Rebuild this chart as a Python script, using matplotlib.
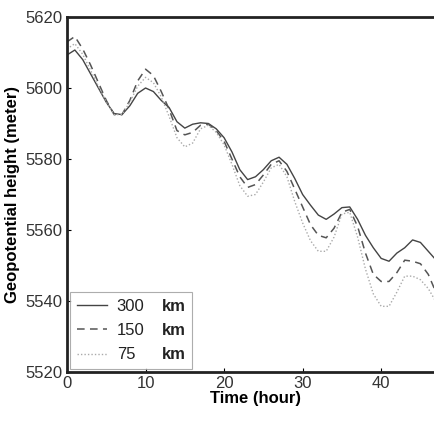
import matplotlib
matplotlib.use("Agg")
import matplotlib.pyplot as plt
from matplotlib.lines import Line2D

# time in hours, geopotential height in metres
hours = list(range(0, 48))

h_300 = [5609.3, 5610.7, 5608.0, 5604.0, 5600.0, 5596.0, 5592.8, 5592.5,
         5595.0, 5598.5, 5600.0, 5599.0, 5596.5, 5594.5, 5590.5, 5588.7,
         5589.8, 5590.2, 5590.0, 5588.5, 5586.0, 5582.0, 5577.0, 5574.2,
         5575.0, 5577.0, 5579.5, 5580.5, 5578.5, 5574.5, 5570.0, 5567.0,
         5564.2, 5563.0, 5564.5, 5566.3, 5566.5, 5563.0, 5558.5, 5555.0,
         5552.0, 5551.2, 5553.5, 5555.0, 5557.2, 5556.5, 5554.0, 5551.5]

h_150 = [5613.0, 5614.5, 5611.0, 5606.5, 5601.5, 5596.5, 5592.5, 5592.5,
         5596.5, 5602.0, 5605.3, 5603.5, 5599.0, 5594.0, 5588.0, 5586.8,
         5587.5, 5589.5, 5589.8, 5588.0, 5585.0, 5580.0, 5575.0, 5572.0,
         5572.8, 5575.5, 5578.5, 5579.5, 5576.5, 5571.5, 5566.5, 5561.5,
         5558.5, 5557.8, 5560.5, 5565.0, 5565.8, 5561.0, 5553.5, 5547.5,
         5545.5, 5545.5, 5548.0, 5551.5, 5551.2, 5550.5, 5547.5, 5542.3]

h_75 = [5611.0, 5612.5, 5609.5, 5605.0, 5600.5, 5596.0, 5592.5, 5592.5,
        5596.0, 5600.5, 5603.0, 5601.5, 5597.5, 5592.0, 5586.0, 5583.4,
        5584.5, 5588.5, 5589.5, 5587.5, 5584.0, 5578.5, 5572.5, 5569.5,
        5570.0, 5573.5, 5577.5, 5578.5, 5575.0, 5568.0, 5562.0, 5557.0,
        5554.0, 5554.0, 5558.0, 5564.5, 5565.0, 5558.0, 5549.0, 5542.0,
        5538.5, 5538.5, 5542.5, 5547.0, 5547.0, 5546.0, 5543.5, 5539.7]

labels = ["300", "150", "75"]
unit = "km"
x_ticks = [0, 10, 20, 30, 40]
y_ticks = [5520, 5540, 5560, 5580, 5600, 5620]

plt.rcParams["font.family"] = ["Liberation Sans", "DejaVu Sans"]

W, H = 435, 421
fig = plt.figure(figsize=(W / 100, H / 100), dpi=100)
ax = fig.add_axes([67 / W, 49 / H, 377 / W, 355 / H])

l1, = ax.plot(hours, h_300, color="#444444", lw=1.0, ls="-")
l2, = ax.plot(hours, h_150, color="#555555", lw=1.1, ls=(0, (5, 3.5)))
l3, = ax.plot(hours, h_75, color="#aaaaaa", lw=1.0, ls=(0, (1, 1.5)))

ax.set_xlim(0, 48)
ax.set_ylim(5520, 5620)
ax.set_xticks(x_ticks)
ax.set_yticks(y_ticks)
ax.tick_params(direction="in", length=3, width=0.8, labelsize=12,
               labelcolor="#333333", pad=3)
for side in ("left", "bottom", "top"):
    ax.spines[side].set_linewidth(2.0)
    ax.spines[side].set_color("#222222")

ax.set_xlabel("Time (hour)", fontsize=12, fontweight="bold", labelpad=0)
ax.set_ylabel("Geopotential height (meter)", fontsize=12, fontweight="bold",
              labelpad=4)

# second legend column holds the bold unit, with invisible handles
blank = Line2D([], [], color="none")
leg = ax.legend([l1, l2, l3, blank, blank, blank],
                labels + [unit] * 3, ncol=2,
                loc="lower left", bbox_to_anchor=(0.008, 0.008), fontsize=12,
                frameon=True, fancybox=False, handlelength=1.8,
                handletextpad=0.6, labelspacing=0.55, borderpad=0.4,
                borderaxespad=0.0, columnspacing=-1.35)
leg.get_frame().set_edgecolor("#999999")
leg.get_frame().set_linewidth(0.8)
for i, t in enumerate(leg.get_texts()):
    t.set_color("#222222")
    if i >= 3:
        t.set_fontweight("bold")

fig.savefig("out.png", dpi=100)
